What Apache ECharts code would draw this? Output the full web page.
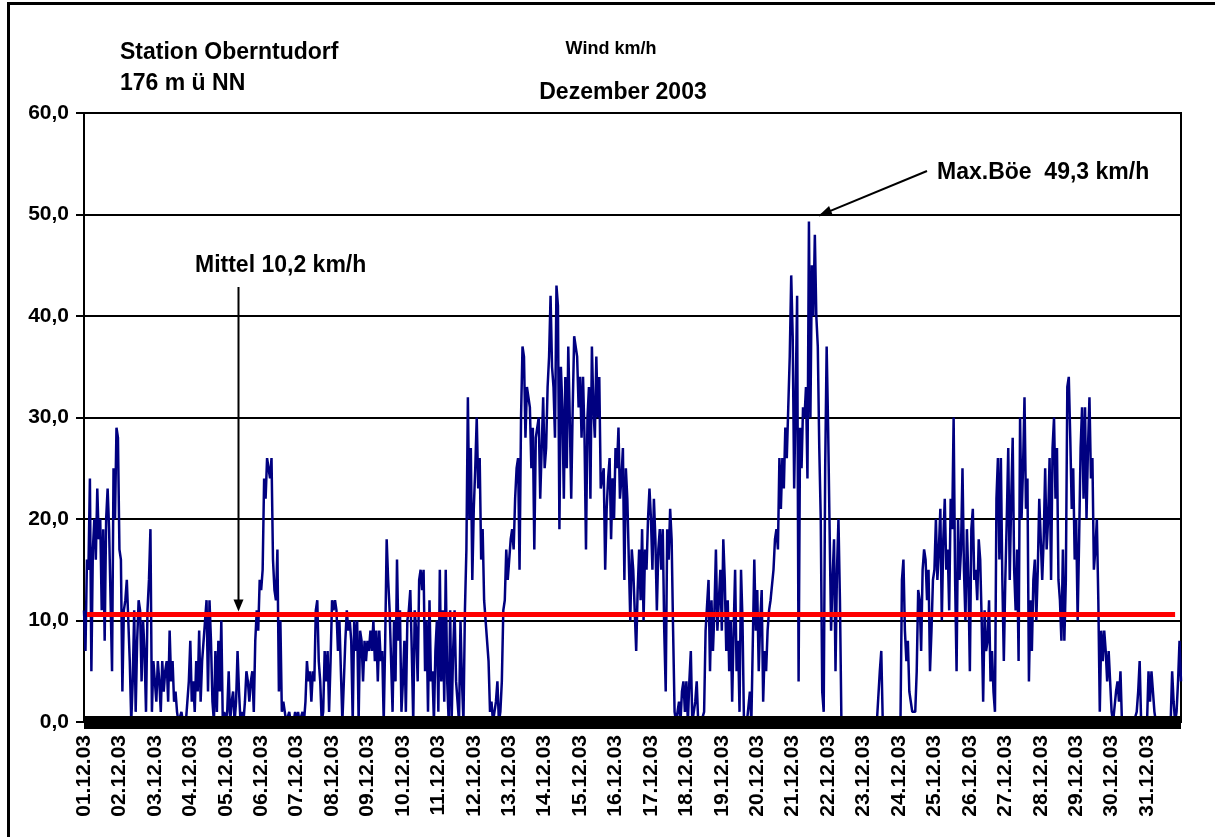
<!DOCTYPE html>
<html>
<head>
<meta charset="utf-8">
<script src="https://cdn.jsdelivr.net/npm/echarts@6/dist/echarts.min.js"></script>
<style>
html,body{margin:0;padding:0;background:#fff;}
#chart{width:1215px;height:837px;}
</style>
</head>
<body>
<div id="chart"></div>
<script>
// Day labels (x axis)
const dayLabels = ['01.12.03','02.12.03','03.12.03','04.12.03','05.12.03','06.12.03','07.12.03','08.12.03','09.12.03','10.12.03','11.12.03','12.12.03','13.12.03','14.12.03','15.12.03','16.12.03','17.12.03','18.12.03','19.12.03','20.12.03','21.12.03','22.12.03','23.12.03','24.12.03','25.12.03','26.12.03','27.12.03','28.12.03','29.12.03','30.12.03','31.12.03'];
// Hourly wind readings (km/h), one array per day
const d01 = [11, 7, 16, 15, 24, 5, 17, 20, 16, 23, 18, 20, 11, 19, 8, 20, 23, 19, 12, 5, 25, 20, 29, 28];
const d02 = [17, 16, 3, 11, 12, 14, 10, 6, 0, 4, 11, 1, 8, 12, 11, 4, 10, 7, 1, 11, 14, 19, 1, 6];
const d03 = [6, 2, 6, 4, 1, 6, 3, 5, 6, 2, 9, 4, 6, 2, 3, 1, 0, 0, 1, 0, 0, 0, 0, 4];
const d04 = [8, 2, 4, 1, 6, 3, 9, 2, 6, 8, 10, 12, 3, 12, 8, 2, 0, 7, 1, 8, 3, 10, 0, 1];
const d05 = [0, 1, 5, 0, 2, 3, 0, 2, 7, 3, 0, 1, 0, 2, 5, 4, 2, 4, 5, 1, 8, 11, 9, 14];
const d06 = [13, 15, 24, 22, 26, 25, 24, 26, 16, 13, 12, 17, 3, 10, 1, 2, 1, 0, 0, 1, 0, 0, 0, 1];
const d07 = [0, 1, 0, 0, 1, 0, 2, 6, 4, 5, 2, 5, 4, 11, 12, 6, 4, 0, 1, 7, 4, 7, 1, 6];
const d08 = [12, 11, 12, 11, 7, 10, 5, 0, 4, 8, 11, 9, 10, 8, 0, 10, 7, 10, 0, 9, 8, 4, 8, 6];
const d09 = [8, 7, 9, 7, 10, 6, 9, 4, 9, 6, 7, 0, 8, 18, 14, 11, 6, 1, 10, 4, 16, 8, 11, 1];
const d10 = [4, 8, 1, 10, 11, 13, 7, 0, 11, 9, 4, 14, 15, 13, 15, 5, 10, 1, 12, 4, 5, 0, 7, 10];
const d11 = [1, 15, 4, 11, 2, 15, 4, 0, 11, 0, 7, 11, 4, 2, 0, 10, 4, 0, 11, 17, 32, 20, 27, 14];
const d12 = [21, 25, 30, 23, 26, 16, 19, 12, 12, 8, 6, 1, 2, 0, 0, 2, 4, 0, 1, 4, 11, 12, 17, 14];
const d13 = [16, 18, 19, 17, 22, 25, 26, 15, 30, 37, 36, 28, 33, 32, 31, 25, 29, 17, 28, 28, 30, 22, 27, 32];
const d14 = [25, 27, 33, 36, 42, 35, 33, 28, 43, 41, 19, 35, 31, 22, 34, 25, 37, 30, 22, 31, 38, 38, 36, 31];
const d15 = [34, 28, 34, 28, 17, 30, 33, 22, 37, 31, 28, 36, 30, 34, 23, 24, 25, 15, 21, 24, 26, 18, 24, 20];
const d16 = [27, 25, 29, 22, 24, 27, 14, 25, 22, 16, 10, 17, 15, 11, 7, 13, 17, 12, 19, 10, 17, 15, 20, 23];
const d17 = [20, 15, 22, 18, 11, 17, 19, 15, 19, 9, 3, 19, 16, 21, 18, 9, 1, 0, 1, 2, 0, 3, 4, 1];
const d18 = [4, 0, 4, 7, 0, 0, 2, 4, 0, 0, 0, 0, 1, 9, 9, 14, 5, 12, 7, 11, 17, 9, 12, 15];
const d19 = [9, 18, 14, 7, 12, 5, 10, 2, 9, 15, 5, 8, 1, 15, 10, 0, 0, 0, 0, 3, 0, 0, 16, 9];
const d20 = [13, 5, 10, 13, 2, 7, 5, 9, 11, 12, 12, 15, 18, 19, 17, 26, 21, 26, 23, 29, 26, 31, 36, 44];
const d21 = [38, 23, 32, 42, 4, 29, 25, 31, 30, 33, 24, 49.3, 30, 45, 40, 48, 40, 37, 27, 20, 3, 1, 25, 37];
const d22 = [29, 19, 9, 14, 18, 5, 15, 20, 12, 0, 0, 0, 0, 0, 0, 0, 0, 0, 0, 0, 0, 0, 0, 0];
const d23 = [0, 0, 0, 0, 0, 0, 0, 0, 0, 0, 0, 5, 7, 0, 0, 0, 0, 0, 0, 0, 0, 0, 0, 0];
const d24 = [0, 0, 14, 16, 9, 6, 8, 3, 2, 1, 1, 1, 5, 13, 12, 7, 15, 17, 16, 12, 15, 5, 9, 14];
const d25 = [15, 20, 14, 17, 21, 10, 18, 22, 15, 17, 11, 22, 19, 30, 14, 5, 20, 14, 17, 25, 15, 10, 19, 14];
const d26 = [5, 19, 21, 14, 15, 12, 18, 16, 10, 2, 11, 7, 8, 12, 4, 7, 3, 1, 22, 26, 16, 26, 14, 6];
const d27 = [14, 20, 27, 14, 22, 28, 15, 11, 17, 6, 30, 20, 25, 32, 21, 24, 4, 12, 7, 14, 16, 10, 15, 22];
const d28 = [22, 14, 18, 25, 17, 20, 26, 14, 27, 30, 22, 27, 14, 12, 8, 17, 8, 14, 33, 34, 28, 21, 25, 16];
const d29 = [20, 10, 18, 27, 31, 22, 31, 20, 27, 32, 24, 26, 15, 17, 20, 12, 1, 9, 6, 9, 7, 4, 7, 4];
const d30 = [1, 0, 0, 3, 4, 2, 5, 0, 0, 0, 0, 0, 0, 0, 0, 0, 0, 1, 3, 6, 0, 0, 0, 0];
const d31 = [0, 5, 2, 5, 3, 1, 0, 0, 0, 0, 0, 0, 0, 0, 0, 0, 0, 5, 2, 0, 1, 4, 8, 4];
const yTicks = [0, 10, 20, 30, 40, 50, 60];
const meanLevel = 10.6;       // drawn level of the mean line
const meanText = 'Mittel 10,2 km/h';
const maxText = 'Max.Böe  49,3 km/h';

const days = [d01,d02,d03,d04,d05,d06,d07,d08,d09,d10,d11,d12,d13,d14,d15,d16,d17,d18,d19,d20,d21,d22,d23,d24,d25,d26,d27,d28,d29,d30,d31];
const perDay = d01.length;
const categories = [];
const values = [];
days.forEach((arr, di) => {
  arr.forEach((v, hi) => {
    categories.push(dayLabels[di] + ' ' + String(hi).padStart(2, '0') + ':00');
    values.push(v);
  });
});
let maxIdx = 0;
values.forEach((v, i) => { if (v > values[maxIdx]) maxIdx = i; });

const FONT = '"Liberation Sans", Arial, sans-serif';
const chart = echarts.init(document.getElementById('chart'), null, {renderer: 'canvas'});
const option = {
  animation: false,
  backgroundColor: '#fff',
  grid: {left: 84, top: 113, right: 34, bottom: 115, show: true, borderColor: '#000', borderWidth: 2, backgroundColor: 'transparent'},
  xAxis: {
    type: 'category',
    data: categories,
    boundaryGap: false,
    z: 10,
    axisLine: {show: true, onZero: true, lineStyle: {color: '#000', width: 13, cap: 'butt'}},
    axisTick: {show: false},
    axisLabel: {
      interval: (idx) => idx % perDay === 0,
      formatter: (v) => v.split(' ')[0],
      rotate: 90,
      margin: 13,
      color: '#000',
      fontFamily: FONT,
      fontWeight: 'bold',
      fontSize: 21
    },
    splitLine: {show: false}
  },
  yAxis: {
    type: 'value',
    min: yTicks[0],
    max: yTicks[yTicks.length - 1],
    interval: yTicks[1] - yTicks[0],
    axisLine: {show: true, lineStyle: {color: '#000', width: 2}},
    axisTick: {show: true, length: 8, lineStyle: {color: '#000', width: 2}},
    axisLabel: {
      formatter: (v) => v.toFixed(1).replace('.', ','),
      margin: 15,
      color: '#000',
      fontFamily: FONT,
      fontWeight: 'bold',
      fontSize: 21
    },
    splitLine: {show: true, lineStyle: {color: '#000', width: 2}}
  },
  series: [{
    type: 'line',
    data: values,
    symbol: 'none',
    z: 2,
    lineStyle: {color: '#000080', width: 2.5},
    itemStyle: {color: '#000080'},
    markLine: {
      silent: true,
      symbol: ['none', 'none'],
      label: {show: false},
      lineStyle: {color: '#ff0000', width: 5, type: 'solid', cap: 'butt'},
      data: [[{coord: [2, meanLevel]}, {coord: [values.length - 5, meanLevel]}]]
    }
  }]
};
chart.setOption(option);

// Annotations
const meanPx = chart.convertToPixel({gridIndex: 0}, [104, meanLevel]);
const maxPx = chart.convertToPixel({gridIndex: 0}, [maxIdx, values[maxIdx]]);
const mTipX = Math.round(meanPx[0]) + 0.5, mTipY = meanPx[1] - 3;
const xTip = [maxPx[0] + 10, maxPx[1] - 6];
const xTail = [927, 171];
function head(tip, tail, len, hw) {
  const dx = tip[0] - tail[0], dy = tip[1] - tail[1];
  const L = Math.sqrt(dx*dx + dy*dy);
  const ux = dx / L, uy = dy / L;
  const bx = tip[0] - ux * len, by = tip[1] - uy * len;
  return [[tip[0], tip[1]], [bx - uy * hw, by + ux * hw], [bx + uy * hw, by - ux * hw]];
}
const txt = (x, y, s, size, align) => ({
  type: 'text', x: x, y: y, z: 100,
  style: {text: s, fill: '#000', font: 'bold ' + size + 'px ' + FONT, textAlign: align || 'left', textVerticalAlign: 'middle'}
});
chart.setOption({
  graphic: [
    {type: 'line', z: 100, shape: {x1: 7, y1: 3.5, x2: 1215, y2: 3.5}, style: {stroke: '#000', lineWidth: 3}},
    {type: 'line', z: 100, shape: {x1: 8.5, y1: 2, x2: 8.5, y2: 837}, style: {stroke: '#000', lineWidth: 3}},
    txt(120, 53, 'Station Oberntudorf', 23),
    txt(120, 84, '176 m ü NN', 23),
    txt(611, 49, 'Wind km/h', 18, 'center'),
    txt(623, 93, 'Dezember 2003', 23, 'center'),
    txt(195, 266, meanText, 23),
    txt(937, 173, maxText, 23),
    {type: 'line', z: 100, shape: {x1: mTipX, y1: 287, x2: mTipX, y2: mTipY - 10}, style: {stroke: '#000', lineWidth: 2}},
    {type: 'polygon', z: 100, shape: {points: head([mTipX, mTipY], [mTipX, 287], 12, 5)}, style: {fill: '#000'}},
    {type: 'line', z: 100, shape: {x1: xTail[0], y1: xTail[1], x2: xTip[0], y2: xTip[1]}, style: {stroke: '#000', lineWidth: 2}},
    {type: 'polygon', z: 100, shape: {points: head(xTip, xTail, 13, 5)}, style: {fill: '#000'}}
  ]
});
</script>
</body>
</html>
